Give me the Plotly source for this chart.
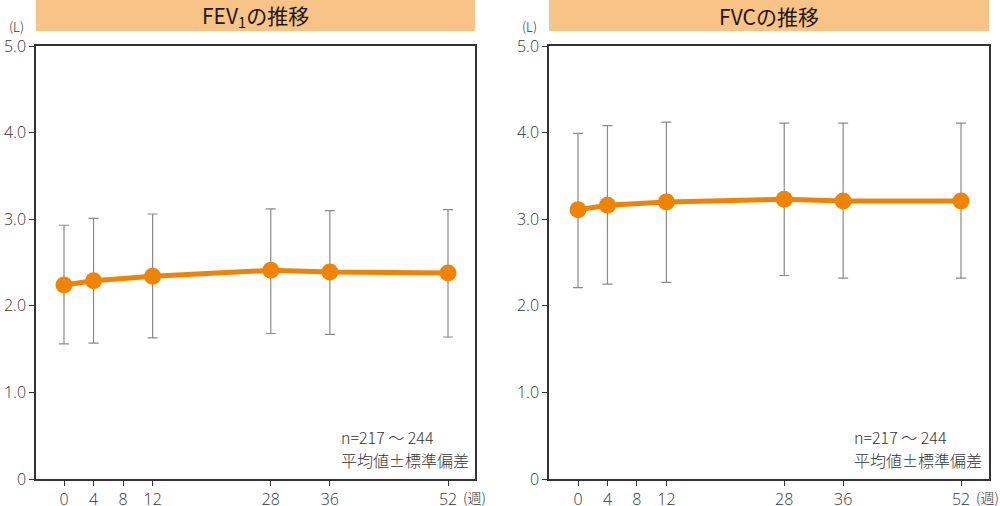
import plotly.graph_objects as go

weeks = [0, 4, 12, 28, 36, 52]
x_ticks = [0, 4, 8, 12, 28, 36, 52]
y_ticks = [0, 1, 2, 3, 4, 5]
y_tick_labels = ["0", "1.0", "2.0", "3.0", "4.0", "5.0"]

fev1_mean = [2.24, 2.29, 2.34, 2.41, 2.39, 2.38]
fev1_upper = [2.93, 3.01, 3.06, 3.12, 3.10, 3.11]
fev1_lower = [1.56, 1.57, 1.63, 1.68, 1.67, 1.64]

fvc_mean = [3.11, 3.16, 3.20, 3.23, 3.21, 3.21]
fvc_upper = [3.99, 4.08, 4.12, 4.11, 4.11, 4.11]
fvc_lower = [2.21, 2.25, 2.27, 2.35, 2.32, 2.32]

titles = ["FEV<sub>1</sub>の推移", "FVCの推移"]
note1 = "n=217 ～ 244"
note2 = "平均値±標準偏差"

FONT = "Noto Sans CJK JP"
NUMFONT = "Open Sans"
ORANGE = "#F08300"
DARK = "#333333"
W, H = 1000, 506

fig = go.Figure()

panels = [
    dict(mean=fev1_mean, up=fev1_upper, lo=fev1_lower, xa="x", ya="y",
         px0=36, px1=475, zero=64, p52=448),
    dict(mean=fvc_mean, up=fvc_upper, lo=fvc_lower, xa="x2", ya="y2",
         px0=549, px1=989, zero=578, p52=961),
]

y_top_px, y_bot_px = 46, 479
ydom = [(H - y_bot_px) / H, (H - y_top_px) / H]

for i, p in enumerate(panels):
    plus = [u - m for u, m in zip(p["up"], p["mean"])]
    minus = [m - l for m, l in zip(p["mean"], p["lo"])]
    fig.add_trace(go.Scatter(
        x=weeks, y=p["mean"], xaxis=p["xa"], yaxis=p["ya"],
        mode="lines+markers",
        line=dict(color=ORANGE, width=5),
        marker=dict(color=ORANGE, size=17),
        error_y=dict(type="data", symmetric=False, array=plus, arrayminus=minus,
                     color="#8a8a8a", thickness=1.2, width=5),
        showlegend=False, hoverinfo="skip",
    ))
    ppw = (p["p52"] - p["zero"]) / 52
    xr = [-(p["zero"] - p["px0"]) / ppw, 52 + (p["px1"] - p["p52"]) / ppw]
    suffix = "" if i == 0 else "2"
    axis_common = dict(showline=True, linecolor=DARK, linewidth=1.5, mirror=True,
                       ticks="outside", ticklen=5, tickcolor=DARK, tickwidth=1.2,
                       showgrid=False, zeroline=False, automargin=False,
                       tickfont=dict(family=NUMFONT, size=16, color=DARK, weight=300))
    fig.layout["xaxis" + suffix] = dict(
        domain=[p["px0"] / W, p["px1"] / W], range=xr,
        tickvals=x_ticks, ticktext=[str(t) for t in x_ticks],
        anchor="y" + suffix, **axis_common)
    fig.layout["yaxis" + suffix] = dict(
        domain=ydom, range=[0, 5],
        tickvals=y_ticks, ticktext=y_tick_labels,
        anchor="x" + suffix, **axis_common)

    # title bar
    fig.add_shape(type="rect", xref="paper", yref="paper",
                  x0=p["px0"] / W, x1=p["px1"] / W,
                  y0=(H - 31) / H, y1=1.0,
                  fillcolor="#F8C387", line=dict(width=0), layer="below")
    fig.add_annotation(xref="paper", yref="paper",
                       x=(p["px0"] + p["px1"]) / 2 / W, y=(H - 16) / H,
                       text=titles[i], showarrow=False,
                       xanchor="center", yanchor="middle",
                       font=dict(family=FONT, size=21, color="#231815", weight=400))
    # (L)
    fig.add_annotation(xref="paper", yref="paper",
                       x=(p["px0"] - 20) / W, y=(H - 26) / H,
                       text="(L)", showarrow=False,
                       xanchor="center", yanchor="middle",
                       font=dict(family=FONT, size=13, color=DARK, weight=300))
    # (週)
    fig.add_annotation(xref="paper", yref="paper",
                       x=(p["p52"] + 13) / W, y=(H - 497) / H,
                       text="(週)", showarrow=False,
                       xanchor="left", yanchor="middle",
                       font=dict(family=FONT, size=14, color=DARK, weight=300))
    # notes
    for txt, ypx in [(note1, 437), (note2, 460)]:
        fig.add_annotation(xref="paper", yref="paper",
                           x=(p["px0"] + 303) / W, y=(H - ypx) / H,
                           text=txt, showarrow=False,
                           xanchor="left", yanchor="middle",
                           font=dict(family=FONT, size=16, color=DARK, weight=300))

fig.update_layout(
    width=W, height=H,
    margin=dict(l=0, r=0, t=0, b=0),
    paper_bgcolor="white", plot_bgcolor="white",
    font=dict(family=FONT),
)

fig.write_html("out.html")
